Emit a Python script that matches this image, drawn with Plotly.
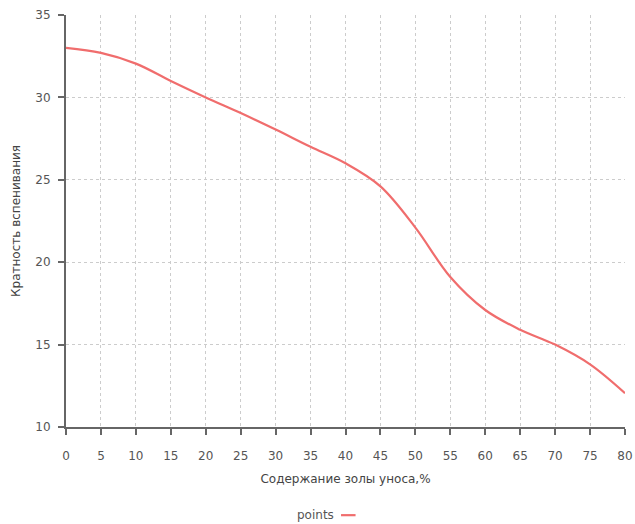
import plotly.graph_objects as go

ash_content = [0, 5, 10, 15, 20, 25, 30, 35, 40, 45, 50, 55, 60, 65, 70, 75, 80]
foam_ratio = [33.0, 32.7, 32.05, 31.0, 30.0, 29.05, 28.05, 27.0, 26.0, 24.6, 22.1, 19.1, 17.1, 15.9, 15.0, 13.8, 12.05]
x_ticks = [0, 5, 10, 15, 20, 25, 30, 35, 40, 45, 50, 55, 60, 65, 70, 75, 80]
y_ticks = [10, 15, 20, 25, 30, 35]

line_color = "#f06d6d"
font_family = "DejaVu Sans"

fig = go.Figure()
fig.add_trace(go.Scatter(
    x=ash_content, y=foam_ratio, mode="lines", name="points",
    line=dict(color=line_color, width=2.2, shape="spline", smoothing=1.0),
    showlegend=False,
))

axis_common = dict(
    showline=True, linecolor="#666666", linewidth=2,
    showgrid=True, gridcolor="#cccccc", griddash="dot", gridwidth=1,
    ticks="outside", ticklen=6, tickwidth=2, tickcolor="#666666",
    tickfont=dict(family=font_family, size=12, color="#555555"),
    zeroline=False,
)

fig.update_xaxes(
    range=[0, 80], tickvals=x_ticks, ticktext=[str(v) for v in x_ticks],
    title=dict(text="Содержание золы уноса,%", font=dict(family=font_family, size=12, color="#444444"), standoff=12),
    ticklabelstandoff=11,
    **axis_common,
)
fig.update_yaxes(
    range=[10, 35], tickvals=y_ticks, ticktext=[str(v) for v in y_ticks],
    title=dict(text="Кратность вспенивания", font=dict(family=font_family, size=12, color="#444444"), standoff=12),
    ticklabelstandoff=5,
    **axis_common,
)

fig.add_annotation(
    xref="paper", yref="paper", x=0.483, y=-0.214, xanchor="right", yanchor="middle",
    text="points", showarrow=False, font=dict(family=font_family, size=12, color="#555555"),
)
fig.add_shape(
    type="line", xref="paper", yref="paper", x0=0.492, x1=0.518, y0=-0.214, y1=-0.214,
    line=dict(color=line_color, width=2.2),
)

fig.update_layout(
    width=635, height=524,
    margin=dict(l=66, r=10, t=15, b=97, autoexpand=False),
    plot_bgcolor="white", paper_bgcolor="white",
)

fig.write_html(
    "out.html",
    config={"displayModeBar": False},
    post_script="document.body.style.margin='0px';document.body.style.overflow='hidden';",
)
